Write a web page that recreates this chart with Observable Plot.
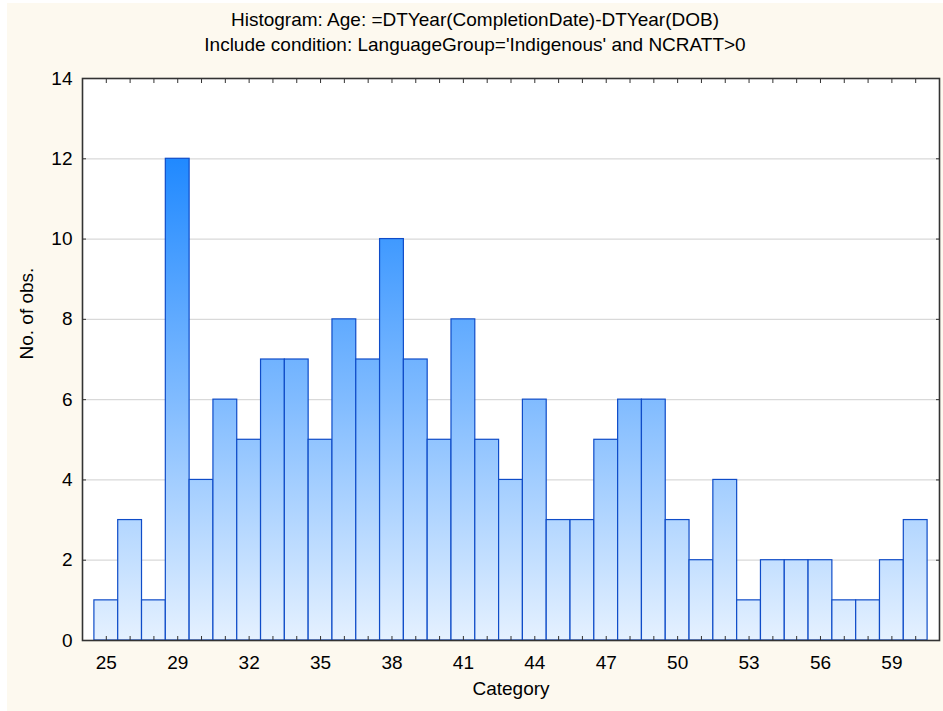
<!DOCTYPE html>
<html>
<head>
<meta charset="utf-8">
<script src="https://cdn.jsdelivr.net/npm/d3@7"></script>
<script src="https://cdn.jsdelivr.net/npm/@observablehq/plot@0.6"></script>
<style>
  html, body { margin: 0; padding: 0; background: #ffffff; }
  #wrap {
    position: absolute; left: 7px; top: 3px; width: 936px; height: 708px;
    background: #fdf9ef; font-family: "Liberation Sans", Arial, sans-serif; color: #000;
  }
  #title { padding-top: 4px; text-align: center; font-size: 19px; line-height: 25px; height: 50px; }
  #chart svg { display: block; overflow: visible; }
</style>
</head>
<body>
<div id="wrap">
  <div id="title">
    <div>Histogram: Age: =DTYear(CompletionDate)-DTYear(DOB)</div>
    <div>Include condition: LanguageGroup='Indigenous' and NCRATT&gt;0</div>
  </div>
  <div id="chart"></div>
</div>
<script>
const categories = ["25","26","27","29","30","31","32","33","34","35","36","37","38","39","40","41","42","43","44","45","46","47","48","49","50","51","52","53","54","55","56","57","58","59","60"];
const counts = [1,3,1,12,4,6,5,7,7,5,8,7,10,7,5,8,5,4,6,3,3,5,6,6,3,2,4,1,2,2,2,1,1,2,3];
const xTickLabels = ["25","29","32","35","38","41","44","47","50","53","56","59"];
const yTicks = [0,2,4,6,8,10,12,14];
const xLabel = "Category";
const yLabel = "No. of obs.";

const data = categories.map((c, i) => ({category: c, count: counts[i]}));

const chart = Plot.plot({
  width: 936,
  height: 654,
  marginLeft: 75,
  marginRight: 4,
  marginTop: 21,
  marginBottom: 71,
  style: {fontFamily: "Liberation Sans, Arial, sans-serif", fontSize: "19px", color: "#000", background: "transparent", overflow: "visible"},
  x: {type: "band", domain: categories, paddingInner: 0, paddingOuter: 0.5, round: false},
  y: {domain: [0, 14]},
  marks: [
    Plot.frame({fill: "#ffffff", stroke: null}),
    Plot.ruleY(yTicks.filter(d => d > 0 && d < 14), {stroke: "#d9d9d9", strokeWidth: 1.3}),
    Plot.barY(data, {x: "category", y: "count", fill: "url(#barGrad)", stroke: "#0f4cc8", strokeWidth: 1.2, inset: 0}),
    Plot.frame({stroke: "#333333", strokeWidth: 1.6}),
    Plot.axisY({ticks: yTicks, tickSize: 0, tickPadding: 10, label: null, fontSize: 19}),
    Plot.axisY({ticks: yTicks, tickSize: -4, text: null, label: null, stroke: "#333"}),
    Plot.axisY({anchor: "right", ticks: yTicks, tickSize: -4, text: null, label: null, stroke: "#333"}),
    Plot.axisX({ticks: xTickLabels, tickSize: 0, tickPadding: 15, label: null, fontSize: 19}),
    Plot.axisX({ticks: categories, tickSize: -4, text: null, label: null, stroke: "#333"}),
    Plot.axisX({anchor: "top", ticks: categories, tickSize: -4, text: null, label: null, stroke: "#333"}),
    Plot.text([xLabel], {frameAnchor: "bottom", dy: 54, fontSize: 19, fill: "#000"}),
    Plot.text([yLabel], {frameAnchor: "left", dx: -56, rotate: -90, fontSize: 19, fill: "#000"})
  ]
});

const ys = chart.scale("y");
const yTop = ys.apply(12);
const yBot = ys.apply(0);
const ns = "http://www.w3.org/2000/svg";
const defs = document.createElementNS(ns, "defs");
const grad = document.createElementNS(ns, "linearGradient");
grad.setAttribute("id", "barGrad");
grad.setAttribute("gradientUnits", "userSpaceOnUse");
grad.setAttribute("x1", 0); grad.setAttribute("x2", 0);
grad.setAttribute("y1", yTop); grad.setAttribute("y2", yBot);
[["0%", "#2089ff"], ["50%", "#80bbff"], ["100%", "#e5f1ff"]].forEach(([o, c]) => {
  const s = document.createElementNS(ns, "stop");
  s.setAttribute("offset", o); s.setAttribute("stop-color", c);
  grad.appendChild(s);
});
defs.appendChild(grad);
chart.insertBefore(defs, chart.firstChild);
document.getElementById("chart").appendChild(chart);
</script>
</body>
</html>
